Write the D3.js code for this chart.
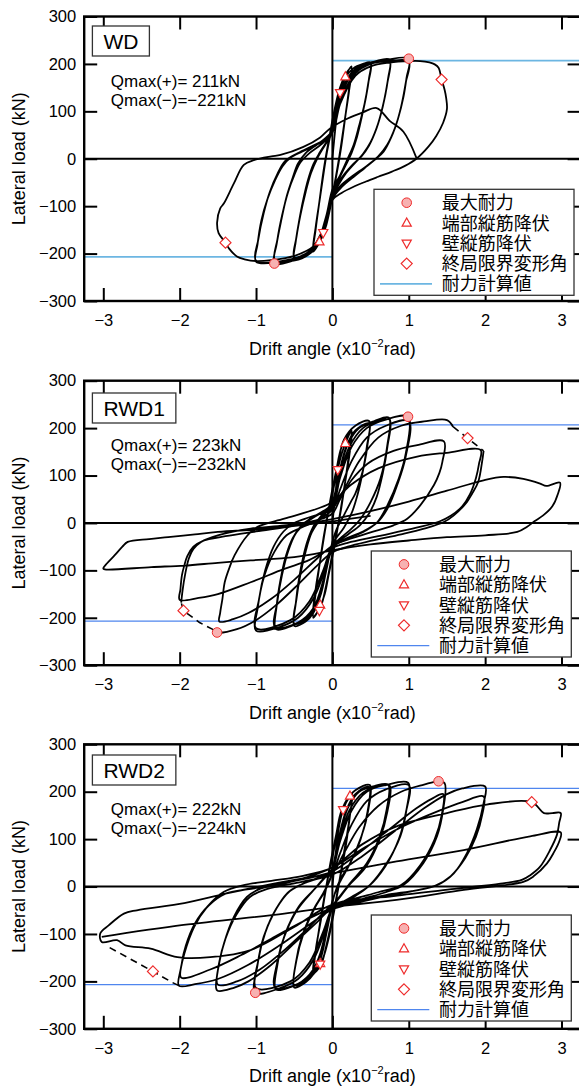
<!DOCTYPE html>
<html>
<head>
<meta charset="utf-8">
<script src="https://cdn.jsdelivr.net/npm/d3@7/dist/d3.min.js"></script>
<style>
  body { margin: 0; background: #fff; }
  svg { display: block; }
</style>
</head>
<body>
<svg id="chart"></svg>
<script>
// ---------- data ----------
var specimens = ["WD", "RWD1", "RWD2"];
var qmaxPos = [211, 223, 222];
var qmaxNeg = [-221, -232, -224];
var calcCapacity = [207, 207, 207];
var xTicks = [-3, -2, -1, 0, 1, 2, 3];
var yTicks = [-300, -200, -100, 0, 100, 200, 300];
var legendLabels = ["最大耐力", "端部縦筋降伏", "壁縦筋降伏", "終局限界変形角", "耐力計算値"];

// drift angle (x10^-2 rad), lateral load (kN)
var wdLoop = [
  [0,0],[0.05,80],[0.1,135],[0.17,172],[0.25,195],
  [0.22,150],[0.17,90],[0.12,30],[0.08,-10],[0.03,-55],[-0.03,-105],[-0.08,-140],[-0.12,-158],[-0.17,-176],[-0.25,-196],
  [-0.22,-150],[-0.17,-90],[-0.12,-30],[-0.08,10],[-0.03,55],[0.03,105],[0.1,150],[0.18,180],[0.25,192],
  [0.22,145],[0.16,80],[0.11,25],[0.07,-15],[0.02,-60],[-0.05,-115],[-0.12,-160],[-0.25,-193],
  [-0.22,-145],[-0.16,-80],[-0.11,-25],[-0.07,15],[-0.02,55],[0.05,110],[0.15,165],[0.27,190],[0.4,200],[0.5,203],
  [0.48,170],[0.44,130],[0.38,85],[0.32,45],[0.25,12],[0.17,-15],[0.08,-45],[0,-75],[-0.07,-120],[-0.15,-165],[-0.27,-195],[-0.4,-208],[-0.5,-213],
  [-0.48,-175],[-0.44,-135],[-0.38,-85],[-0.32,-45],[-0.25,-12],[-0.17,12],[-0.08,35],[0,60],[0.07,110],[0.15,155],[0.27,185],[0.4,198],[0.5,200],
  [0.47,160],[0.42,115],[0.35,70],[0.28,30],[0.2,0],[0.1,-35],[0,-65],[-0.08,-120],[-0.18,-170],[-0.3,-195],[-0.5,-208],
  [-0.47,-165],[-0.42,-120],[-0.35,-70],[-0.28,-30],[-0.2,0],[-0.1,28],[0,55],[0.08,110],[0.2,165],[0.35,195],[0.55,205],[0.75,209],
  [0.73,170],[0.68,125],[0.6,75],[0.5,35],[0.4,10],[0.3,-8],[0.18,-30],[0.08,-55],[0,-80],[-0.07,-125],[-0.15,-170],[-0.3,-200],[-0.5,-214],[-0.76,-221],
  [-0.73,-180],[-0.67,-130],[-0.6,-80],[-0.52,-40],[-0.45,-10],[-0.35,12],[-0.2,30],[-0.08,45],[0,60],[0.08,110],[0.2,165],[0.4,198],[0.6,206],[0.75,207],
  [0.72,160],[0.66,110],[0.58,65],[0.48,28],[0.38,5],[0.25,-15],[0.1,-45],[0,-75],[-0.08,-130],[-0.2,-185],[-0.45,-210],[-0.75,-215],
  [-0.72,-170],[-0.66,-120],[-0.58,-70],[-0.5,-35],[-0.42,-8],[-0.3,12],[-0.15,30],[0,55],[0.1,115],[0.25,170],[0.45,200],[0.7,208],[1.0,211],
  [0.97,170],[0.93,130],[0.86,85],[0.77,45],[0.67,15],[0.55,-3],[0.42,-20],[0.28,-38],[0.12,-60],[0,-85],[-0.08,-135],[-0.2,-185],[-0.4,-210],[-0.7,-218],[-1.0,-217],
  [-0.98,-180],[-0.93,-130],[-0.85,-85],[-0.75,-45],[-0.65,-15],[-0.55,2],[-0.4,15],[-0.2,30],[-0.05,45],[0,60],[0.1,120],[0.3,180],[0.5,200],[0.75,206],[1.0,205],
  [0.96,160],[0.9,110],[0.82,65],[0.72,30],[0.6,5],[0.45,-15],[0.25,-38],[0.1,-58],[0,-80],[-0.1,-140],[-0.3,-195],[-0.6,-214],[-1.0,-215],
  [-0.97,-170],[-0.9,-115],[-0.82,-70],[-0.72,-32],[-0.62,-5],[-0.45,12],[-0.25,28],[-0.05,45],[0,58],[0.1,115],[0.3,175],[0.5,195],[0.75,203],[1.0,206],
  [1.15,206],[1.27,203],[1.34,199],[1.39,192],[1.43,167],[1.47,145],[1.49,128],[1.5,105],[1.45,76],[1.36,48],[1.26,26],[1.1,0],
  [0.95,-15],[0.78,-27],[0.6,-38],[0.44,-48],[0.29,-58],[0.12,-72],[0,-87],[-0.1,-140],[-0.25,-185],[-0.5,-205],[-0.8,-214],[-1.0,-216],
  [-1.15,-212],[-1.25,-206],[-1.35,-190],[-1.4,-177],[-1.49,-157],[-1.51,-135],[-1.47,-105],[-1.42,-94],[-1.29,-52],[-1.16,-13],[-1.03,-3],
  [-0.8,5],[-0.68,8],[-0.38,25],[-0.16,45],[-0.03,64],[0.2,85],[0.4,98],[0.58,107],[0.75,80],[0.93,57],[1.1,2]
];

var rwd1Loop = [
  [0,0],[0.04,60],[0.07,112],[0.12,145],[0.17,168],[0.25,195],
  [0.22,150],[0.17,90],[0.12,35],[0.07,-10],[0.02,-55],[-0.05,-110],[-0.1,-150],[-0.17,-180],[-0.25,-200],
  [-0.22,-150],[-0.17,-90],[-0.12,-35],[-0.07,10],[-0.02,55],[0.05,110],[0.12,160],[0.25,195],
  [0.22,140],[0.15,70],[0.1,20],[0.05,-25],[0,-65],[-0.08,-130],[-0.15,-175],[-0.25,-197],
  [-0.22,-140],[-0.15,-70],[-0.1,-20],[-0.05,25],[0,60],[0.08,130],[0.15,175],[0.3,205],[0.48,215],
  [0.46,165],[0.42,125],[0.37,94],[0.3,62],[0.24,44],[0.15,16],[0.05,-15],[0,-40],[-0.08,-100],[-0.15,-150],[-0.25,-190],[-0.35,-208],[-0.5,-217],
  [-0.48,-170],[-0.44,-120],[-0.38,-70],[-0.32,-35],[-0.24,-5],[-0.12,20],[0,45],[0.08,100],[0.18,160],[0.3,195],[0.48,210],
  [0.45,160],[0.4,110],[0.33,60],[0.25,20],[0.15,-10],[0,-45],[-0.1,-115],[-0.2,-170],[-0.35,-203],[-0.5,-212],
  [-0.47,-160],[-0.42,-110],[-0.35,-60],[-0.27,-20],[-0.15,10],[0,40],[0.1,110],[0.2,165],[0.35,200],[0.55,215],[0.74,222],
  [0.72,165],[0.63,94],[0.5,44],[0.37,9],[0.25,-12],[0.12,-30],[0,-50],[-0.1,-110],[-0.2,-165],[-0.35,-200],[-0.55,-218],[-0.74,-224],
  [-0.73,-175],[-0.68,-120],[-0.61,-70],[-0.52,-32],[-0.42,-8],[-0.28,10],[-0.12,25],[0,40],[0.1,100],[0.22,160],[0.4,200],[0.6,215],[0.75,218],
  [0.72,160],[0.66,105],[0.58,55],[0.48,20],[0.36,-5],[0.2,-25],[0,-50],[-0.1,-110],[-0.25,-180],[-0.45,-210],[-0.75,-220],
  [-0.72,-165],[-0.66,-110],[-0.58,-60],[-0.48,-22],[-0.35,0],[-0.18,18],[0,35],[0.1,95],[0.25,160],[0.45,200],[0.7,218],[0.99,224],
  [0.96,146],[0.87,94],[0.72,37],[0.59,2],[0.45,-15],[0.25,-30],[0.05,-45],[0,-55],[-0.1,-100],[-0.25,-160],[-0.45,-200],[-0.7,-220],[-1.0,-227],
  [-0.98,-181],[-0.89,-111],[-0.76,-61],[-0.6,-26],[-0.41,-10],[-0.2,5],[0,28],[0.1,70],[0.25,130],[0.45,180],[0.7,205],[1.0,215],
  [0.96,140],[0.86,85],[0.72,30],[0.58,0],[0.4,-18],[0.15,-35],[0,-50],[-0.12,-100],[-0.3,-165],[-0.55,-205],[-1.0,-222],
  [-0.96,-160],[-0.88,-100],[-0.77,-50],[-0.64,-18],[-0.5,0],[-0.3,12],[-0.1,22],[0,30],[0.15,70],[0.35,130],[0.6,180],[0.9,205],[1.2,214],[1.5,217],[1.58,203]
];
var rwd1Loop2 = [
  [1.98,152],[1.96,129],[1.91,87],[1.83,62],[1.76,44],[1.59,16],[1.46,2],[1.2,-12],[0.9,-24],[0.5,-38],[0.2,-50],[0,-62],
  [-0.2,-90],[-0.45,-130],[-0.75,-175],[-1.0,-205],[-1.25,-224],[-1.51,-231],[-1.56,-225]
];
var rwd1Loop3 = [
  [-1.98,-168],[-1.96,-140],[-1.93,-110],[-1.88,-75],[-1.82,-55],[-1.72,-40],[-1.5,-26],[-1.07,-12],[-0.63,-5],[-0.2,6],[0,20],
  [0.1,50],[0.25,90],[0.46,125],[0.8,152],[1.11,164],[1.46,172],
  [1.44,129],[1.4,105],[1.33,80],[1.15,37],[0.98,9],[0.8,-5],[0.5,-20],[0.2,-35],[0,-48],[-0.2,-75],[-0.5,-120],[-0.8,-160],[-1.1,-190],[-1.3,-203],[-1.48,-208],
  [-1.47,-190],[-1.44,-160],[-1.41,-125],[-1.35,-95],[-1.28,-68],[-1.11,-26],[-0.98,-8],[-0.63,9],[-0.2,30],[0,44],[0.24,80],[0.6,115],[1.11,140],[1.5,148],[1.94,154],
  [1.92,125],[1.88,95],[1.8,60],[1.7,35],[1.55,15],[1.4,3],[1.1,-10],[0.6,-28],[0.2,-42],[0,-52],[-0.3,-78],[-0.63,-97],[-1.07,-125],[-1.5,-150],[-1.75,-158],[-2.0,-162],
  [-1.99,-140],[-1.97,-110],[-1.94,-90],[-1.9,-70],[-1.82,-50],[-1.7,-38],[-1.4,-28],[-1.0,-18],[-0.5,-6],[0,8],[0.5,25],[1.0,45],[1.5,68],[1.98,90],
  [2.24,97],[2.5,93],[2.72,83],[2.8,78],[2.98,85],
  [2.95,60],[2.88,35],[2.76,16],[2.65,4],[2.55,-8],[2.42,-19],[2.0,-26],[1.5,-30],[1.0,-37],[0.5,-45],[0.24,-51],[0,-58],
  [-0.5,-72],[-1.07,-79],[-1.5,-84],[-1.94,-90],[-2.37,-93],[-2.98,-98],
  [-3.0,-96],[-2.95,-85],[-2.85,-68],[-2.75,-50],[-2.68,-40],[-2.4,-34],[-2.15,-30],[-1.8,-24],[-1.5,-19],[-0.85,-12],[-0.2,-1],[0.2,8],[0.5,15]
];
var rwd1GapPos = [[1.58,203],[1.77,179],[1.98,152]];
var rwd1GapNeg = [[-1.56,-225],[-1.74,-210],[-1.95,-185],[-1.98,-168]];

var rwd2Loop = [
  [0,0],[0.04,65],[0.08,120],[0.14,162],[0.23,191],[0.26,196],
  [0.23,150],[0.18,90],[0.12,35],[0.07,-10],[0.02,-55],[-0.05,-110],[-0.12,-150],[-0.16,-162],[-0.25,-185],
  [-0.22,-140],[-0.17,-85],[-0.12,-35],[-0.07,10],[-0.02,55],[0.05,110],[0.12,160],[0.25,192],
  [0.22,140],[0.15,70],[0.1,20],[0.05,-25],[0,-65],[-0.08,-125],[-0.15,-165],[-0.25,-183],
  [-0.22,-135],[-0.15,-70],[-0.1,-20],[-0.05,25],[0,60],[0.08,130],[0.16,175],[0.3,203],[0.49,214],
  [0.47,162],[0.38,106],[0.23,49],[0.1,14],[0.03,-15],[0,-35],[-0.08,-100],[-0.15,-150],[-0.25,-185],[-0.35,-202],[-0.5,-213],
  [-0.48,-162],[-0.4,-106],[-0.25,-49],[-0.12,-14],[-0.04,12],[0,35],[0.08,100],[0.18,160],[0.3,195],[0.48,210],
  [0.46,158],[0.37,100],[0.22,45],[0.1,10],[0,-30],[-0.1,-115],[-0.2,-165],[-0.35,-198],[-0.5,-208],
  [-0.47,-155],[-0.38,-100],[-0.23,-45],[-0.1,-10],[0,28],[0.1,110],[0.2,165],[0.35,200],[0.55,212],[0.73,215],
  [0.71,162],[0.62,106],[0.45,49],[0.23,7],[0.1,-20],[0,-42],[-0.1,-105],[-0.2,-160],[-0.35,-195],[-0.55,-212],[-0.74,-217],
  [-0.72,-165],[-0.63,-106],[-0.46,-49],[-0.25,-8],[-0.1,18],[0,38],[0.1,100],[0.22,160],[0.4,198],[0.6,212],[0.75,213],
  [0.72,158],[0.62,100],[0.44,42],[0.22,3],[0.1,-22],[0,-45],[-0.1,-110],[-0.25,-175],[-0.45,-205],[-0.75,-213],
  [-0.72,-158],[-0.62,-100],[-0.44,-42],[-0.22,-3],[-0.1,20],[0,36],[0.1,95],[0.25,160],[0.45,200],[0.7,214],[0.99,219],
  [0.97,162],[0.89,106],[0.71,49],[0.49,3],[0.3,-20],[0.1,-38],[0,-48],[-0.1,-95],[-0.25,-155],[-0.45,-195],[-0.7,-215],[-1.01,-224],
  [-0.98,-165],[-0.9,-106],[-0.77,-57],[-0.59,-14],[-0.4,5],[-0.2,18],[0,32],[0.1,70],[0.25,130],[0.45,180],[0.7,205],[1.0,214],
  [0.96,155],[0.87,100],[0.69,42],[0.47,0],[0.25,-22],[0.1,-36],[0,-46],[-0.12,-95],[-0.3,-160],[-0.55,-200],[-1.0,-214],
  [-0.97,-155],[-0.88,-98],[-0.74,-48],[-0.56,-10],[-0.35,8],[-0.12,20],[0,28],[0.15,70],[0.35,125],[0.6,170],[0.9,200],[1.2,215],[1.39,222],[1.47,218],
  [1.45,162],[1.37,106],[1.19,49],[0.93,3],[0.7,-12],[0.4,-26],[0,-45],[-0.2,-75],[-0.5,-120],[-0.8,-165],[-1.1,-200],[-1.3,-214],[-1.51,-219],
  [-1.5,-177],[-1.42,-120],[-1.29,-64],[-1.12,-22],[-0.95,-5],[-0.6,8],[-0.2,22],[0,32],[0.3,65],[0.7,115],[1.1,165],[1.3,185],[1.45,195],
  [1.43,150],[1.34,100],[1.15,45],[0.9,3],[0.6,-12],[0.3,-25],[0,-40],[-0.3,-85],[-0.6,-130],[-0.95,-175],[-1.25,-200],[-1.5,-207],
  [-1.48,-160],[-1.4,-110],[-1.26,-60],[-1.08,-22],[-0.85,-5],[-0.4,10],[0,25],[0.4,65],[0.8,115],[1.2,165],[1.5,195],[1.7,207],[2.0,211],
  [1.98,176],[1.89,120],[1.76,70],[1.59,28],[1.37,3],[1.1,-8],[0.7,-20],[0.3,-35],[0,-48],[-0.3,-80],[-0.7,-125],[-1.1,-165],[-1.5,-195],[-1.8,-206],[-2.01,-209],
  [-1.99,-177],[-1.94,-142],[-1.81,-85],[-1.64,-43],[-1.42,-11],[-1.16,3],[-0.8,12],[-0.4,22],[0,40],[0.4,80],[0.9,125],[1.4,160],[1.7,178],[1.98,190],
  [1.96,150],[1.88,105],[1.74,60],[1.55,22],[1.35,2],[1.1,-8],[0.7,-18],[0.3,-32],[0,-45],[-0.4,-75],[-0.8,-110],[-1.2,-145],[-1.6,-175],[-1.98,-192],
  [-1.97,-160],[-1.92,-125],[-1.8,-78],[-1.62,-40],[-1.4,-15],[-1.0,-3],[-0.5,12],[0,40],[0.4,90],[0.84,127],[1.5,155],[2.02,173],[2.61,178],[2.77,155],[2.88,155],[2.99,155],
  [2.97,135],[2.94,109],[2.85,77],[2.72,42],[2.59,24],[2.48,14],[2.2,6],[1.6,-5],[0.8,-20],[0,-38],[-0.5,-85],[-1.07,-134],
  [-1.6,-149],[-2.03,-149],[-2.38,-131],[-2.71,-124],[-2.82,-113],[-3.02,-117],
  [-3.04,-99],[-2.93,-82],[-2.73,-57],[-2.56,-50],[-1.94,-35],[-1.4,-15],[-0.8,5],[0,28],[0.84,53],[1.72,77],[2.59,106],[2.99,114],
  [2.97,95],[2.9,72],[2.81,49],[2.63,21],[2.5,10],[1.72,-7],[0.84,-28],[0,-43],[-0.63,-57],[-1.95,-81],[-3.02,-106]
];
var rwd2Gap = [[-2.01,-209],[-2.1,-202],[-2.35,-179],[-2.97,-124]];

// event markers [drift, load]
var maxLoadPts   = [[[1.0,211],[-0.76,-221]], [[0.99,224],[-1.51,-231]], [[1.39,222],[-1.01,-224]]];
var endYieldPts  = [[[0.17,173],[-0.17,-175]], [[0.17,168],[-0.16,-173]], [[0.23,191],[-0.16,-162]]];
var wallYieldPts = [[[0.10,139],[-0.12,-156]], [[0.07,112],[-0.17,-185]], [[0.14,162],[-0.16,-164]]];
var ultimatePts  = [[[1.43,167],[-1.40,-177]], [[1.77,179],[-1.95,-185]], [[2.61,178],[-2.35,-179]]];

var solidLoops = [[wdLoop], [rwd1Loop, rwd1Loop2, rwd1Loop3], [rwd2Loop]];
var gapLoops = [[], [rwd1GapPos, rwd1GapNeg], [rwd2Gap]];

// ---------- layout ----------
var W = 579, H = 1086;
var plotLeft = 84.2, plotRight = 580.6, panelH = 284.5;
var panelTop = [16.5, 380.7, 744.3];
var boxTop = [9.5, 12.3, 10.7];
var legendPos = [[374, 172.8], [371.3, 170.3], [371.3, 170.7]];
var calcColor = ["#6cb6e2", "#4f86ee", "#4f86ee"];
var calcWidth = [1.8, 1.3, 1.3];
var latin = "'Liberation Sans', Arial, sans-serif";
var cjk = "'Noto Sans CJK JP', 'Noto Sans CJK SC', sans-serif";
var red = "#ee2b2b";

var svg = d3.select("#chart").attr("width", W).attr("height", H);
svg.append("rect").attr("width", W).attr("height", H).attr("fill", "#fff");

var x = d3.scaleLinear().domain([-3.25, 3.25]).range([plotLeft, plotRight]);
var y = d3.scaleLinear().domain([-300, 300]).range([panelH, 0]);

var line = d3.line()
    .x(function(d) { return x(d[0]); })
    .y(function(d) { return y(d[1]); })
    .curve(d3.curveCatmullRom.alpha(0.5));

var shapes = {
  up: "M0,-5L4.6,3.2L-4.6,3.2Z",
  down: "M0,5L4.6,-3.2L-4.6,-3.2Z",
  diamond: "M0,-5.5L5.5,0L0,5.5L-5.5,0Z"
};

function drawMarker(sel, type, cx, cy) {
  if (type === "circle") {
    sel.append("circle").attr("cx", cx).attr("cy", cy).attr("r", 4.8)
      .attr("fill", "#f7b1b1").attr("stroke", red).attr("stroke-width", 1);
  } else {
    sel.append("path").attr("d", shapes[type])
      .attr("transform", "translate(" + cx + "," + cy + ")")
      .attr("fill", "#fff").attr("stroke", red).attr("stroke-width", 1.2);
  }
}

specimens.forEach(function(name, i) {
  var g = svg.append("g").attr("transform", "translate(0," + panelTop[i] + ")");

  // calculated capacity lines
  g.append("line").attr("x1", x(0)).attr("x2", x(3.25))
    .attr("y1", y(calcCapacity[i])).attr("y2", y(calcCapacity[i]))
    .attr("stroke", calcColor[i]).attr("stroke-width", calcWidth[i]);
  g.append("line").attr("x1", x(-3.25)).attr("x2", x(0))
    .attr("y1", y(-calcCapacity[i])).attr("y2", y(-calcCapacity[i]))
    .attr("stroke", calcColor[i]).attr("stroke-width", calcWidth[i]);

  // zero lines
  g.append("line").attr("x1", x(-3.25)).attr("x2", x(3.25)).attr("y1", y(0)).attr("y2", y(0))
    .attr("stroke", "#000").attr("stroke-width", 2);
  g.append("line").attr("x1", x(0)).attr("x2", x(0)).attr("y1", 0).attr("y2", panelH)
    .attr("stroke", "#000").attr("stroke-width", 2);

  // hysteresis loops
  g.selectAll(".loop").data(solidLoops[i]).enter().append("path")
    .attr("class", "loop")
    .attr("d", line)
    .attr("fill", "none").attr("stroke", "#000").attr("stroke-width", 1.8)
    .attr("stroke-linejoin", "round");
  g.selectAll(".gap").data(gapLoops[i]).enter().append("path")
    .attr("class", "gap")
    .attr("d", d3.line().x(function(d) { return x(d[0]); }).y(function(d) { return y(d[1]); }))
    .attr("fill", "none").attr("stroke", "#000").attr("stroke-width", 1.6)
    .attr("stroke-dasharray", "7,5");

  // markers
  maxLoadPts[i].forEach(function(p) { drawMarker(g, "circle", x(p[0]), y(p[1])); });
  endYieldPts[i].forEach(function(p) { drawMarker(g, "up", x(p[0]), y(p[1])); });
  wallYieldPts[i].forEach(function(p) { drawMarker(g, "down", x(p[0]), y(p[1])); });
  ultimatePts[i].forEach(function(p) { drawMarker(g, "diamond", x(p[0]), y(p[1])); });

  // axes (ticks point inward)
  var fmt = d3.format("d");
  var bottom = g.append("g").attr("transform", "translate(0," + panelH + ")")
    .call(d3.axisBottom(x).tickValues(xTicks).tickFormat(fmt).tickSizeInner(-13).tickSizeOuter(0).tickPadding(13));
  var left = g.append("g").attr("transform", "translate(" + plotLeft + ",0)")
    .call(d3.axisLeft(y).tickValues(yTicks).tickFormat(fmt).tickSizeInner(-13).tickSizeOuter(0).tickPadding(8));
  var top = g.append("g")
    .call(d3.axisTop(x).tickValues(xTicks).tickSizeInner(-13).tickSizeOuter(0).tickFormat(""));
  var right = g.append("g").attr("transform", "translate(" + plotRight + ",0)")
    .call(d3.axisRight(y).tickValues(yTicks).tickSizeInner(-13).tickSizeOuter(0).tickFormat(""));
  [bottom, left, top, right].forEach(function(a) {
    a.select(".domain").remove();
    a.selectAll(".tick line").attr("stroke-width", 2);
    a.attr("font-family", latin).attr("font-size", 16.5);
    a.selectAll("text").attr("fill", "#000");
  });

  g.append("rect").attr("x", plotLeft).attr("y", 0)
    .attr("width", plotRight - plotLeft).attr("height", panelH)
    .attr("fill", "none").attr("stroke", "#000").attr("stroke-width", 2.4);

  // axis titles
  g.append("text")
    .attr("transform", "translate(24.5," + (panelH / 2) + ") rotate(-90)")
    .attr("text-anchor", "middle").attr("font-family", latin).attr("font-size", 18)
    .text("Lateral load (kN)");
  var xt = g.append("text").attr("x", x(0)).attr("y", panelH + 53.5)
    .attr("text-anchor", "middle").attr("font-family", latin).attr("font-size", 18);
  xt.append("tspan").text("Drift angle (x10");
  xt.append("tspan").attr("font-size", 11).attr("dy", -8).text("\u22122");
  xt.append("tspan").attr("dy", 8).text("rad)");

  // specimen label box
  var box = g.append("g");
  var boxRect = box.append("rect").attr("x", 92.4).attr("y", boxTop[i]).attr("height", 30)
    .attr("fill", "#fff").attr("stroke", "#333").attr("stroke-width", 1.3);
  var lbl = box.append("text").attr("x", 92.4 + 11).attr("y", boxTop[i] + 23.3)
    .attr("font-family", latin).attr("font-size", 21).text(name);
  boxRect.attr("width", lbl.node().getComputedTextLength() + 22);

  // Qmax text
  g.append("text").attr("x", 110.8).attr("y", 70.6)
    .attr("font-family", latin).attr("font-size", 17)
    .text("Qmax(+)= " + qmaxPos[i] + "kN");
  g.append("text").attr("x", 110.8).attr("y", 89.4)
    .attr("font-family", latin).attr("font-size", 17)
    .text("Qmax(\u2212)=\u2212" + Math.abs(qmaxNeg[i]) + "kN");

  // legend
  var lp = legendPos[i];
  var lg = g.append("g").attr("transform", "translate(" + lp[0] + "," + lp[1] + ")");
  lg.append("rect").attr("width", 200).attr("height", 106)
    .attr("fill", "#fff").attr("stroke", "#333").attr("stroke-width", 1.3);
  var types = ["circle", "up", "down", "diamond", "line"];
  legendLabels.forEach(function(lab, k) {
    var cy = 13.4 + 20.3 * k;
    if (types[k] === "line") {
      lg.append("line").attr("x1", 6).attr("x2", 58).attr("y1", cy).attr("y2", cy)
        .attr("stroke", calcColor[i]).attr("stroke-width", calcWidth[i]);
    } else {
      drawMarker(lg, types[k], 32.7, cy);
    }
    lg.append("text").attr("x", 67.7).attr("y", cy + 6.6)
      .attr("font-family", cjk).attr("font-size", 18).text(lab);
  });
});
</script>
</body>
</html>
